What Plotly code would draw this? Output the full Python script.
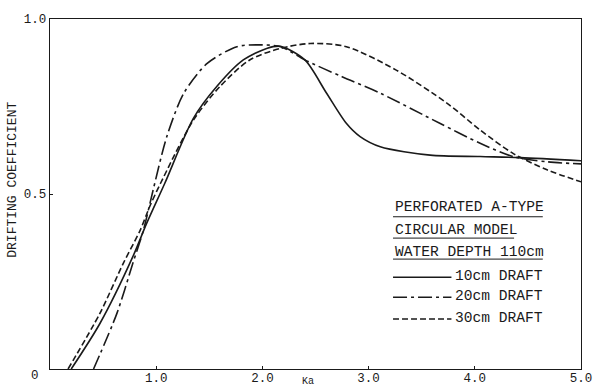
import plotly.graph_objects as go

# ---- data ----
x_10cm = [0.20, 0.47, 0.78, 0.91, 1.08, 1.35, 1.57, 1.82, 2.04, 2.17, 2.40, 2.60, 2.79, 2.92, 3.11, 3.58, 4.05, 4.43, 5.00]
y_10cm = [0.00, 0.13, 0.321, 0.416, 0.53, 0.716, 0.807, 0.883, 0.916, 0.922, 0.883, 0.79, 0.702, 0.664, 0.635, 0.611, 0.607, 0.604, 0.595]

x_20cm = [0.41, 0.63, 0.78, 0.88, 0.97, 1.10, 1.26, 1.48, 1.76, 1.95, 2.17, 2.40, 2.75, 3.11, 3.67, 4.05, 4.36, 4.68, 5.00]
y_20cm = [0.00, 0.159, 0.302, 0.397, 0.51, 0.664, 0.788, 0.873, 0.921, 0.926, 0.921, 0.883, 0.835, 0.788, 0.702, 0.645, 0.607, 0.592, 0.586]

x_30cm = [0.17, 0.47, 0.69, 0.85, 0.94, 1.04, 1.35, 1.60, 1.88, 2.17, 2.45, 2.79, 3.26, 3.74, 4.05, 4.36, 4.68, 5.00]
y_30cm = [0.00, 0.159, 0.302, 0.397, 0.465, 0.53, 0.711, 0.807, 0.883, 0.916, 0.930, 0.921, 0.854, 0.759, 0.683, 0.616, 0.569, 0.535]

x_ticks = [1, 2, 3, 4, 5]
x_tick_labels = ["1.0", "2.0", "3.0", "4.0", "5.0"]
y_ticks = [0.5, 1.0]
y_tick_labels = ["0.5", "1.0"]

legend_heading = ["PERFORATED A-TYPE", "CIRCULAR MODEL", "WATER DEPTH 110cm"]
series_names = ["10cm DRAFT", "20cm DRAFT", "30cm DRAFT"]

FONT = "Liberation Mono, Courier New, monospace"
INK = "#1a1a1a"
dashes = ["solid", "14px,4px,3px,4px", "6px,3px"]

fig = go.Figure()
for xs, ys, name, dash in zip([x_10cm, x_20cm, x_30cm], [y_10cm, y_20cm, y_30cm], series_names, dashes):
    fig.add_trace(go.Scatter(x=xs, y=ys, mode="lines", name=name,
                             line=dict(color=INK, width=1.6, dash=dash, shape="spline", smoothing=0.8),
                             showlegend=False))

# legend drawn as text + sample lines inside the plot (data coords)
lx0 = 3.23
head_y = [0.463, 0.397, 0.335]
under_y = [0.435, 0.374, 0.314]
under_x1 = [4.64, 4.37, 4.64]
for t, ty, uy, ux1 in zip(legend_heading, head_y, under_y, under_x1):
    fig.add_annotation(x=lx0, y=ty, xref="x", yref="y", text=t, showarrow=False,
                       xanchor="left", yanchor="middle", font=dict(family=FONT, size=14.6, color=INK))
    fig.add_shape(type="line", xref="x", yref="y", x0=lx0, x1=ux1, y0=uy, y1=uy,
                  line=dict(color=INK, width=1))

sample_y = [0.262, 0.205, 0.143]
for name, dash, sy in zip(series_names, dashes, sample_y):
    fig.add_shape(type="line", xref="x", yref="y", x0=lx0, x1=3.78, y0=sy, y1=sy,
                  line=dict(color=INK, width=1.6, dash=dash))
    fig.add_annotation(x=3.79, y=sy + 0.003, xref="x", yref="y", text=name, showarrow=False,
                       xanchor="left", yanchor="middle", font=dict(family=FONT, size=14.6, color=INK))

# origin label and axis titles
fig.add_annotation(x=-0.028, y=-0.02, xref="paper", yref="paper", text="0", showarrow=False,
                   xanchor="center", yanchor="middle", font=dict(family=FONT, size=12.5, color=INK))
fig.add_annotation(x=-0.072, y=0.54, xref="paper", yref="paper", text="DRIFTING COEFFICIENT",
                   textangle=-90, showarrow=False, xanchor="center", yanchor="middle",
                   font=dict(family=FONT, size=13, color=INK))
fig.add_annotation(x=0.485, y=-0.057, xref="paper", yref="paper", text="Ka", showarrow=False,
                   xanchor="center", yanchor="bottom", font=dict(family=FONT, size=10, color=INK))

axis_common = dict(showline=True, mirror=True, linecolor=INK, linewidth=1.4, showgrid=False,
                   zeroline=False, ticks="inside", ticklen=3, tickcolor=INK, automargin=False,
                   tickfont=dict(family=FONT, size=12.5, color=INK))
fig.update_xaxes(range=[0, 5], tickvals=x_ticks, ticktext=x_tick_labels, ticklabelstandoff=-3, **axis_common)
fig.update_yaxes(range=[0, 1], tickvals=y_ticks, ticktext=y_tick_labels, **axis_common)

fig.update_layout(width=595, height=389, margin=dict(l=50, r=14, t=19, b=20),
                  paper_bgcolor="white", plot_bgcolor="white")
fig.write_html("out.html")
